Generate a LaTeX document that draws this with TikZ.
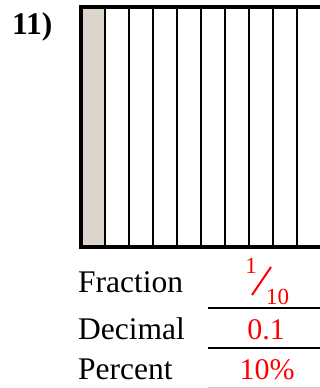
\documentclass[tikz,border=0pt]{standalone}
\usepackage{fontspec}
\setmainfont{Liberation Serif}
\definecolor{shadecol}{RGB}{221,214,204}
\begin{document}
\begin{tikzpicture}[x=1pt,y=-1pt,
  lbl/.style={anchor=base west, inner sep=0pt, font=\fontsize{31.5}{31.5}\selectfont},
  ans/.style={anchor=base, inner sep=0pt, text=red, font=\fontsize{30}{30}\selectfont},
  smallans/.style={inner sep=0pt, text=red, font=\fontsize{23}{23}\selectfont},
  answerrule/.style={line width=2pt},
  gridline/.style={line width=1.5pt}]
\path[use as bounding box] (0,0) rectangle (320,388);
\clip (0,0) rectangle (320,388);
% number
\node[anchor=base west, inner sep=0pt, font=\fontsize{31.5}{31.5}\selectfont\bfseries] (num) at (12,34) {11)};
% grid box
\fill[shadecol] (83,9) rectangle (105,245);
\foreach \x in {105,129,...,321} \draw[gridline] (\x,9) -- (\x,245);
\draw[line width=4.3pt] (81,7) rectangle (323,247);
% labels
\node[lbl] (frac) at (78,292) {Fraction};
\node[lbl] (dec) at (78,339) {Decimal};
\node[lbl] (pct) at (78,379) {Percent};
% answers
\node[smallans, anchor=base] (fnum) at (251,273) {1};
\node[smallans, anchor=base west] (fden) at (266,304) {10};
\draw[red, line width=2pt] (252,295) -- (271,267);
\node[ans] (decans) at (266,339) {0.1};
\node[ans] (pctans) at (267,379) {10\%};
% rules
\draw[answerrule] (208,308) -- (330,308);
\draw[answerrule] (208,348) -- (330,348);
\draw[line width=1pt, black!20] (208,387) -- (330,387);
\end{tikzpicture}
\end{document}
